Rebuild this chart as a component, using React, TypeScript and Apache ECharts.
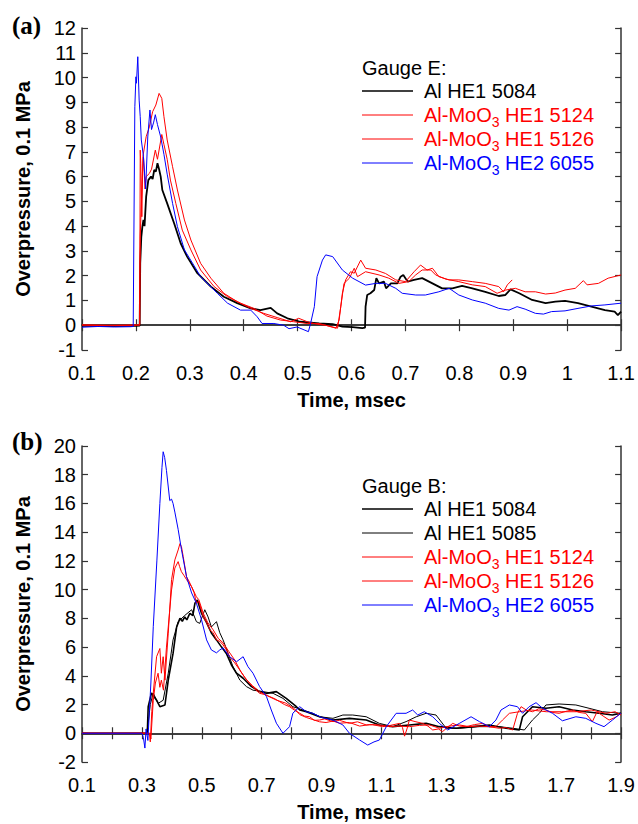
import React, { useEffect, useRef } from "react";
import * as echarts from "echarts";

type P = [number, number][];

// ---------- Panel (a): Gauge E ----------
const xTicksA = { min: 0.1, max: 1.1, interval: 0.1 };
const yTicksA = { min: -1, max: 12, interval: 1 };

const E_Al_HE1_5084: P = [
  [0.1, -0.03], [0.15, -0.04], [0.2, -0.03], [0.207, -0.02], [0.208, 2.5], [0.21, 3.57], [0.212, 3.98],
  [0.214, 4.25], [0.216, 4.0], [0.219, 5.19], [0.223, 5.86], [0.228, 6.0], [0.231, 5.9], [0.234, 6.27],
  [0.237, 6.2], [0.24, 6.54], [0.243, 6.3], [0.246, 6.0], [0.249, 5.46], [0.258, 4.92], [0.271, 4.11],
  [0.283, 3.31], [0.295, 2.77], [0.314, 2.1], [0.339, 1.56], [0.363, 1.15], [0.388, 0.89], [0.413, 0.68],
  [0.431, 0.61], [0.45, 0.7], [0.462, 0.48], [0.481, 0.28], [0.505, 0.14], [0.54, 0.07], [0.565, 0.04],
  [0.583, -0.06], [0.602, -0.08], [0.62, -0.12], [0.625, -0.1], [0.626, 0.75], [0.629, 1.22], [0.635, 1.29],
  [0.642, 1.42], [0.646, 1.9], [0.651, 1.69], [0.66, 1.76], [0.664, 1.49], [0.673, 1.69], [0.685, 1.69],
  [0.691, 1.96], [0.696, 2.03], [0.704, 1.76], [0.716, 1.83], [0.731, 1.9], [0.75, 1.69], [0.768, 1.49],
  [0.787, 1.49], [0.805, 1.59], [0.824, 1.49], [0.848, 1.35], [0.873, 1.18], [0.885, 1.22], [0.895, 1.45],
  [0.911, 1.29], [0.935, 1.02], [0.96, 0.89], [0.978, 0.95], [0.996, 0.98], [1.02, 0.89], [1.045, 0.75],
  [1.07, 0.61], [1.088, 0.55], [1.094, 0.41], [1.1, 0.55],
];

const E_AlMoO3_HE1_5124: P = [
  [0.1, 0.0], [0.15, -0.02], [0.2, 0.0], [0.207, 0.02], [0.208, 7.07], [0.209, 6.54], [0.211, 4.38],
  [0.213, 6.81], [0.219, 7.61], [0.225, 8.01], [0.231, 8.62], [0.237, 8.89], [0.243, 9.36], [0.248, 9.16],
  [0.252, 8.42], [0.258, 7.48], [0.268, 6.4], [0.277, 5.46], [0.29, 4.25], [0.302, 3.44], [0.32, 2.5],
  [0.339, 1.9], [0.363, 1.29], [0.388, 0.95], [0.413, 0.68], [0.437, 0.48], [0.462, 0.31], [0.487, 0.14],
  [0.502, 0.28], [0.518, 0.14], [0.536, 0.04], [0.552, 0.0], [0.574, -0.12], [0.58, 0.75], [0.586, 1.69],
  [0.596, 1.9], [0.605, 2.3], [0.611, 1.96], [0.626, 2.16], [0.651, 2.03], [0.669, 1.9], [0.688, 1.69],
  [0.706, 1.76], [0.719, 2.03], [0.731, 2.23], [0.747, 2.23], [0.756, 2.03], [0.775, 1.86], [0.799, 1.76],
  [0.824, 1.63], [0.848, 1.56], [0.87, 1.29], [0.886, 1.42], [0.904, 1.49], [0.922, 1.35], [0.941, 1.35],
  [0.96, 1.26], [0.978, 1.3], [0.996, 1.42], [1.015, 1.49], [1.03, 1.8], [1.037, 1.63], [1.058, 1.69],
  [1.076, 1.9], [1.1, 2.03],
];

const E_AlMoO3_HE1_5126: P = [
  [0.1, 0.02], [0.15, 0.0], [0.2, 0.01], [0.207, 0.0], [0.208, 3.57], [0.212, 6.13], [0.214, 6.81],
  [0.217, 5.5], [0.219, 6.0], [0.225, 6.13], [0.229, 6.3], [0.236, 7.07], [0.24, 6.7], [0.248, 7.7],
  [0.252, 7.3], [0.258, 6.7], [0.264, 5.86], [0.274, 4.92], [0.286, 3.84], [0.302, 3.04], [0.32, 2.23],
  [0.345, 1.56], [0.37, 1.15], [0.394, 0.89], [0.419, 0.68], [0.443, 0.37], [0.468, 0.21], [0.493, 0.14],
  [0.518, 0.07], [0.54, 0.07], [0.571, -0.12], [0.577, 0.21], [0.583, 1.29], [0.589, 1.83], [0.598, 2.16],
  [0.605, 2.1], [0.617, 2.63], [0.626, 2.3], [0.645, 2.23], [0.663, 2.09], [0.682, 1.83], [0.7, 1.76],
  [0.716, 2.16], [0.728, 2.43], [0.74, 2.23], [0.75, 2.3], [0.762, 1.96], [0.781, 1.83], [0.799, 1.83],
  [0.824, 1.76], [0.848, 1.69], [0.873, 1.56], [0.882, 1.35], [0.889, 1.63], [0.898, 1.83],
];

const E_AlMoO3_HE2_6055: P = [
  [0.1, -0.08], [0.13, -0.05], [0.16, -0.07], [0.19, -0.06], [0.195, -0.05], [0.198, 8.82], [0.2, 10.03],
  [0.201, 9.77], [0.2035, 10.84], [0.206, 9.09], [0.208, 8.42], [0.21, 7.48], [0.214, 6.81], [0.218, 5.5],
  [0.222, 7.6], [0.226, 8.69], [0.229, 7.9], [0.233, 8.2], [0.236, 8.5], [0.24, 8.1], [0.246, 7.6],
  [0.252, 6.9], [0.258, 6.1], [0.268, 4.92], [0.277, 3.98], [0.29, 3.04], [0.308, 2.4], [0.32, 1.96],
  [0.351, 1.29], [0.37, 0.89], [0.394, 0.61], [0.413, 0.61], [0.425, 0.34], [0.434, 0.07], [0.456, 0.07],
  [0.474, 0.0], [0.484, -0.14], [0.499, -0.07], [0.52, -0.26], [0.524, 0.07], [0.531, 0.75], [0.536, 1.96],
  [0.546, 2.63], [0.552, 2.84], [0.565, 2.77], [0.583, 2.23], [0.602, 1.9], [0.626, 1.62], [0.645, 1.69],
  [0.663, 1.69], [0.682, 1.49], [0.694, 1.29], [0.719, 1.22], [0.737, 1.22], [0.762, 1.35], [0.781, 1.49],
  [0.799, 1.22], [0.824, 1.02], [0.848, 0.89], [0.873, 0.68], [0.892, 0.61], [0.907, 0.75], [0.922, 0.65],
  [0.941, 0.48], [0.956, 0.45], [0.971, 0.55], [0.996, 0.58], [1.02, 0.68], [1.045, 0.78], [1.07, 0.82],
  [1.1, 0.89],
];

// ---------- Panel (b): Gauge B ----------
const xTicksB = { min: 0.1, max: 1.9, interval: 0.1 };
const yTicksB = { min: -2, max: 20, interval: 2 };

const B_Al_HE1_5084: P = [
  [0.1, 0.0], [0.2, 0.0], [0.31, 0.0], [0.318, 0.0], [0.321, 1.85], [0.332, 2.8], [0.349, 2.3],
  [0.36, 1.85], [0.377, 1.97], [0.388, 3.7], [0.404, 5.56], [0.416, 7.4], [0.427, 8.0], [0.435, 7.8],
  [0.443, 8.1], [0.45, 7.9], [0.46, 8.35], [0.47, 8.2], [0.477, 9.05], [0.485, 9.28], [0.499, 8.35],
  [0.516, 7.7], [0.532, 6.98], [0.549, 6.5], [0.566, 6.0], [0.582, 5.56], [0.599, 4.75], [0.616, 4.18],
  [0.638, 3.83], [0.666, 3.25], [0.693, 2.9], [0.716, 2.78], [0.749, 2.9], [0.782, 2.43], [0.816, 1.85],
  [0.827, 1.62], [0.849, 1.5], [0.893, 1.15], [0.938, 0.92], [0.993, 1.04], [1.049, 0.92], [1.093, 0.58],
  [1.138, 0.46], [1.193, 0.58], [1.249, 0.69], [1.293, 0.46], [1.349, 0.35], [1.404, 0.46], [1.46, 0.58],
  [1.516, 0.35], [1.56, 0.23], [1.571, 1.15], [1.604, 1.85], [1.649, 1.74], [1.693, 1.85], [1.738, 1.62],
  [1.782, 1.5], [1.827, 1.39], [1.871, 1.27], [1.9, 1.39],
];

const B_Al_HE1_5085: P = [
  [0.1, 0.0], [0.2, 0.0], [0.315, 0.0], [0.32, 0.5], [0.328, 2.0], [0.338, 2.8], [0.354, 2.08],
  [0.371, 2.3], [0.388, 4.18], [0.404, 6.5], [0.421, 7.77], [0.443, 8.2], [0.466, 8.6], [0.482, 7.77],
  [0.493, 7.65], [0.51, 8.6], [0.521, 8.1], [0.532, 7.4], [0.549, 7.77], [0.56, 7.0], [0.571, 6.5],
  [0.588, 5.56], [0.604, 4.64], [0.627, 3.7], [0.649, 3.25], [0.671, 3.0], [0.704, 2.9], [0.738, 2.78],
  [0.771, 2.43], [0.804, 1.85], [0.838, 1.62], [0.871, 1.39], [0.893, 1.15], [0.938, 1.04], [0.971, 1.27],
  [1.004, 1.27], [1.049, 1.15], [1.093, 0.69], [1.138, 0.46], [1.182, 0.81], [1.216, 1.15], [1.249, 1.39],
  [1.282, 1.27], [1.316, 0.35], [1.36, 0.35], [1.427, 0.46], [1.493, 0.46], [1.538, 0.35], [1.577, 0.23],
  [1.604, 0.92], [1.627, 1.39], [1.649, 1.97], [1.693, 2.04], [1.749, 1.97], [1.793, 1.74], [1.838, 1.5],
  [1.9, 1.39],
];

const B_AlMoO3_HE1_5124: P = [
  [0.1, 0.02], [0.2, -0.02], [0.3, 0.02], [0.325, 0.0], [0.328, -0.6], [0.333, 1.5], [0.338, 2.8],
  [0.349, 5.33], [0.36, 5.9], [0.365, 4.18], [0.371, 5.33], [0.377, 3.7], [0.388, 6.97], [0.399, 10.7],
  [0.41, 12.07], [0.421, 12.76], [0.427, 13.2], [0.432, 13.0], [0.438, 12.3], [0.449, 10.9], [0.457, 10.6],
  [0.466, 10.2], [0.474, 9.8], [0.482, 9.05], [0.49, 9.2], [0.505, 8.1], [0.516, 7.7], [0.527, 7.2],
  [0.538, 7.0], [0.549, 6.5], [0.56, 6.4], [0.571, 6.15], [0.582, 5.8], [0.593, 5.33], [0.61, 4.9],
  [0.627, 4.4], [0.643, 3.9], [0.66, 3.48], [0.676, 3.1], [0.693, 2.78], [0.71, 2.7], [0.727, 2.55],
  [0.744, 2.4], [0.76, 2.2], [0.776, 2.0], [0.793, 1.85], [0.81, 1.6], [0.827, 1.39], [0.843, 1.2],
  [0.86, 1.15], [0.876, 0.9], [0.893, 0.92], [0.91, 1.0], [0.938, 0.81], [0.96, 0.9], [0.993, 0.69],
  [1.02, 0.8], [1.049, 0.58], [1.07, 0.6], [1.104, 0.46], [1.13, 0.55], [1.16, 0.69], [1.17, 0.4],
  [1.177, -0.2], [1.185, 0.3], [1.193, 0.92], [1.215, 0.8], [1.238, 0.69], [1.255, 0.5], [1.271, 0.23],
  [1.29, 0.3], [1.304, 0.12], [1.32, 0.4], [1.338, 0.69], [1.36, 0.5], [1.382, 0.46], [1.41, 0.6],
  [1.438, 0.69], [1.46, 0.45], [1.493, 0.35], [1.515, 0.4], [1.538, 0.23], [1.554, 1.39], [1.566, 1.85],
  [1.585, 1.6], [1.604, 1.5], [1.625, 1.7], [1.649, 1.62], [1.67, 1.45], [1.693, 1.39], [1.72, 1.55],
  [1.738, 1.62], [1.76, 1.45], [1.782, 1.39], [1.804, 0.81], [1.82, 1.5], [1.84, 1.2], [1.86, 0.92],
  [1.88, 1.1], [1.9, 1.39],
];

const B_AlMoO3_HE1_5126: P = [
  [0.1, 0.0], [0.2, 0.02], [0.3, 0.0], [0.327, 0.0], [0.33, -0.4], [0.338, 2.3], [0.345, 3.5],
  [0.354, 4.18], [0.36, 3.2], [0.365, 3.7], [0.372, 3.0], [0.382, 6.0], [0.399, 9.98], [0.41, 11.5],
  [0.421, 11.95], [0.426, 11.6], [0.432, 11.25], [0.44, 11.0], [0.449, 10.7], [0.466, 10.2], [0.482, 9.5],
  [0.49, 9.3], [0.505, 8.35], [0.52, 7.7], [0.538, 7.2], [0.555, 6.6], [0.571, 6.3], [0.59, 5.7],
  [0.61, 5.1], [0.63, 4.3], [0.65, 3.7], [0.67, 3.3], [0.693, 2.9], [0.72, 2.6], [0.75, 2.3], [0.78, 2.1],
  [0.81, 1.7], [0.827, 1.3], [0.849, 1.1], [0.871, 0.95], [0.893, 0.8], [0.915, 0.75], [0.938, 0.85],
  [0.96, 0.7], [0.993, 0.75], [1.027, 0.5], [1.06, 0.6], [1.093, 0.58], [1.127, 0.46], [1.16, 0.5],
  [1.193, 0.46], [1.227, 0.55], [1.26, 0.58], [1.293, 0.35], [1.327, 0.5], [1.36, 0.58], [1.393, 0.46],
  [1.427, 0.5], [1.46, 0.46], [1.482, 0.46], [1.504, 0.92], [1.527, 1.39], [1.56, 1.5], [1.6, 1.62],
  [1.65, 1.5], [1.7, 1.5], [1.75, 1.5], [1.8, 1.62], [1.85, 1.39], [1.88, 1.5], [1.9, 1.27],
];

const B_AlMoO3_HE2_6055: P = [
  [0.1, 0.0], [0.2, 0.0], [0.3, 0.0], [0.305, -0.3], [0.31, -1.03], [0.314, 0.3], [0.32, -0.5],
  [0.325, 1.5], [0.33, 3.5], [0.338, 7.42], [0.35, 12.0], [0.36, 16.0], [0.367, 18.5], [0.371, 19.6],
  [0.376, 19.2], [0.382, 18.3], [0.393, 16.2], [0.399, 16.3], [0.404, 16.0], [0.41, 15.4], [0.421, 14.2],
  [0.432, 12.8], [0.449, 10.9], [0.466, 9.77], [0.482, 9.05], [0.499, 7.9], [0.516, 6.5], [0.532, 5.8],
  [0.549, 5.6], [0.56, 5.8], [0.571, 5.94], [0.593, 5.33], [0.616, 4.98], [0.638, 5.33], [0.654, 4.64],
  [0.671, 4.18], [0.693, 3.25], [0.716, 2.55], [0.732, 1.62], [0.749, 0.7], [0.771, 0.0], [0.793, 0.46],
  [0.804, 1.4], [0.827, 1.85], [0.849, 1.5], [0.871, 1.39], [0.9, 1.1], [0.938, 0.92], [0.971, 0.58],
  [0.993, 0.0], [1.027, -0.47], [1.054, -0.82], [1.075, -0.6], [1.093, -0.47], [1.116, 0.46], [1.149, 1.39],
  [1.182, 1.39], [1.204, 1.62], [1.221, 1.27], [1.243, 1.5], [1.271, 1.15], [1.293, 0.69], [1.321, 0.23],
  [1.36, 0.69], [1.399, 1.15], [1.427, 0.81], [1.46, 0.46], [1.482, 0.92], [1.499, 1.62], [1.527, 1.97],
  [1.554, 1.85], [1.571, 1.39], [1.593, 1.85], [1.616, 2.13], [1.638, 1.74], [1.671, 1.39], [1.704, 0.87],
  [1.749, 1.15], [1.782, 1.04], [1.816, 0.69], [1.843, 0.46], [1.871, 0.92], [1.899, 1.39],
];

const legendTitleA = "Gauge E:";
const legendTitleB = "Gauge B:";
const xTitle = "Time, msec";
const yTitle = "Overpressure, 0.1 MPa";

const BLACK = "#000000";
const RED = "#ff0000";
const BLUE = "#0000ff";
const FONT = "Liberation Sans, Arial, sans-serif";

export default function App() {
  const ref = useRef<HTMLDivElement>(null);
  useEffect(() => {
    if (!ref.current) return;
    const chart = echarts.init(ref.current, undefined, { renderer: "svg" });
    const axisLine = { show: true, lineStyle: { color: "#333", width: 1.5 } };
    const tick = { show: true, inside: true, length: 6, lineStyle: { color: "#333", width: 1.2 } };
    const lbl = { color: "#000", fontSize: 20, fontFamily: FONT };
    const nameStyle = { color: "#000", fontSize: 20, fontWeight: "bold" as const, fontFamily: FONT };
    const fmt1 = (v: number) => String(Math.round(v * 10) / 10);
    const fmtB = (v: number) => {
      const k = Math.round((v - 0.1) * 10);
      return k % 2 === 0 ? String(Math.round(v * 10) / 10) : "";
    };

    const mkX = (g: number, t: any, fmt: any) => [
      {
        type: "value", gridIndex: g, ...t, position: "bottom",
        axisLine, axisTick: tick, splitLine: { show: false },
        axisLabel: { ...lbl, margin: 13, formatter: fmt },
        name: xTitle, nameLocation: "middle", nameGap: 40, nameTextStyle: nameStyle,
      },
      {
        type: "value", gridIndex: g, ...t, position: "top",
        axisLine, axisTick: tick, splitLine: { show: false }, axisLabel: { show: false },
      },
    ];
    const mkY = (g: number, t: any) => [
      {
        type: "value", gridIndex: g, ...t, position: "left",
        axisLine, axisTick: tick, splitLine: { show: false },
        axisLabel: { ...lbl, margin: 6 },
        name: yTitle, nameLocation: "middle", nameGap: 49, nameTextStyle: nameStyle,
      },
      {
        type: "value", gridIndex: g, ...t, position: "right",
        axisLine, axisTick: tick, splitLine: { show: false }, axisLabel: { show: false },
      },
    ];

    const line = (name: string, data: P, color: string, width: number, xi: number, yi: number) => ({
      type: "line", name, data, xAxisIndex: xi, yAxisIndex: yi,
      showSymbol: false, symbol: "none",
      lineStyle: { color, width }, itemStyle: { color },
    });

    const legendRows = (x: number, y0: number, title: string, rows: { t: string; c: string; w: number }[]) => {
      const els: any[] = [
        {
          type: "text", x, y: y0,
          style: { text: title, fill: "#000", fontSize: 20, fontFamily: FONT, verticalAlign: "middle", align: "left" },
        },
      ];
      rows.forEach((r, i) => {
        const y = y0 + 23 + i * 24;
        els.push({ type: "line", shape: { x1: x, y1: y, x2: x + 51, y2: y }, style: { stroke: r.c, lineWidth: r.w } });
        els.push({
          type: "text", x: x + 62, y,
          style: {
            text: r.t, fill: r.c, fontSize: 20, fontFamily: FONT, verticalAlign: "middle", align: "left",
            rich: {
              n: { fill: r.c, fontSize: 20, fontFamily: FONT, lineHeight: 28, verticalAlign: "middle" },
              s: { fill: r.c, fontSize: 14, fontFamily: FONT, lineHeight: 14, verticalAlign: "bottom" },
            },
          },
        });
      });
      return els;
    };

    const mo = (tail: string) => `{n|Al-MoO}{s|3}{n|${tail}}`;

    chart.setOption({
      animation: false,
      backgroundColor: "#fff",
      grid: [
        { left: 82, top: 28, width: 541, height: 322 },
        { left: 82, top: 446, width: 540, height: 316 },
      ],
      xAxis: [...mkX(0, xTicksA, fmt1), ...mkX(1, xTicksB, fmtB)],
      yAxis: [...mkY(0, yTicksA), ...mkY(1, yTicksB)],
      series: [
        line("Al HE1 5084", E_Al_HE1_5084, BLACK, 1.8, 0, 0),
        line("Al-MoO3 HE1 5124", E_AlMoO3_HE1_5124, RED, 1, 0, 0),
        line("Al-MoO3 HE1 5126", E_AlMoO3_HE1_5126, RED, 1, 0, 0),
        line("Al-MoO3 HE2 6055", E_AlMoO3_HE2_6055, BLUE, 1, 0, 0),
        line("Al HE1 5084 (B)", B_Al_HE1_5084, BLACK, 1.6, 2, 2),
        line("Al HE1 5085 (B)", B_Al_HE1_5085, BLACK, 1, 2, 2),
        line("Al-MoO3 HE1 5124 (B)", B_AlMoO3_HE1_5124, RED, 1, 2, 2),
        line("Al-MoO3 HE1 5126 (B)", B_AlMoO3_HE1_5126, RED, 1, 2, 2),
        line("Al-MoO3 HE2 6055 (B)", B_AlMoO3_HE2_6055, BLUE, 1, 2, 2),
      ],
      graphic: [
        {
          type: "text", x: 12, y: 25,
          style: { text: "(a)", fill: "#000", fontSize: 25, fontWeight: "bold", fontFamily: "Liberation Serif, Times New Roman, serif", verticalAlign: "middle" },
        },
        {
          type: "text", x: 12, y: 441,
          style: { text: "(b)", fill: "#000", fontSize: 25, fontWeight: "bold", fontFamily: "Liberation Serif, Times New Roman, serif", verticalAlign: "middle" },
        },
        ...legendRows(362, 68, legendTitleA, [
          { t: "{n|Al HE1 5084}", c: BLACK, w: 1.5 },
          { t: mo(" HE1 5124"), c: RED, w: 1 },
          { t: mo(" HE1 5126"), c: RED, w: 1 },
          { t: mo(" HE2 6055"), c: BLUE, w: 1 },
        ]),
        ...legendRows(362, 486, legendTitleB, [
          { t: "{n|Al HE1 5084}", c: BLACK, w: 1.5 },
          { t: "{n|Al HE1 5085}", c: BLACK, w: 1 },
          { t: mo(" HE1 5124"), c: RED, w: 1 },
          { t: mo(" HE1 5126"), c: RED, w: 1 },
          { t: mo(" HE2 6055"), c: BLUE, w: 1 },
        ]),
      ],
    });
    return () => chart.dispose();
  }, []);
  return <div ref={ref} style={{ position: "fixed", left: 0, top: 0, width: 638, height: 824, background: "#fff" }} />;
}
